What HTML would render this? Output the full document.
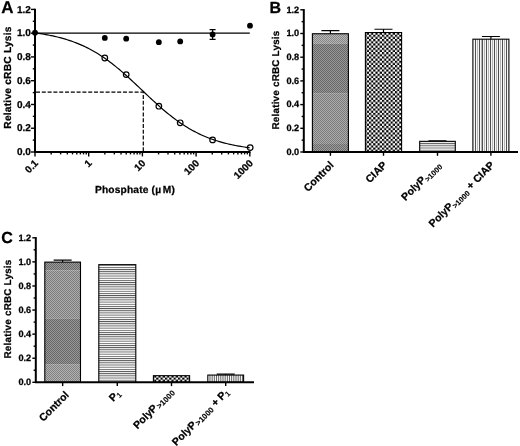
<!DOCTYPE html>
<html><head><meta charset="utf-8"><title>Figure</title>
<style>
html,body{margin:0;padding:0;background:#fff;}
svg{display:block;will-change:transform;}
text{text-rendering:geometricPrecision;font-family:"Liberation Sans",Arial,sans-serif;font-weight:bold;fill:#000;stroke:#000;stroke-width:0.25px;}
.ax{stroke:#000;stroke-width:2;fill:none;}
.tk{stroke:#000;stroke-width:1.4;fill:none;}
.ln{stroke:#000;stroke-width:1.2;fill:none;}
</style></head><body>
<svg width="520" height="446" viewBox="0 0 520 446">
<defs>
<pattern id="chk" width="4.34" height="4.34" patternUnits="userSpaceOnUse"><rect width="4.34" height="4.34" fill="#fff"/><rect x="0" y="0" width="2.17" height="2.17" fill="#000"/><rect x="2.17" y="2.17" width="2.17" height="2.17" fill="#000"/></pattern>
<pattern id="hs" width="2.17" height="2.17" patternUnits="userSpaceOnUse"><rect width="2.17" height="2.17" fill="#fff"/><rect x="0" y="0" width="2.17" height="0.9" fill="#555"/></pattern>
<pattern id="vs" x="1.49" width="3.91" height="4" patternUnits="userSpaceOnUse"><rect width="4" height="4" fill="#f4f4f4"/><rect x="0" y="0" width="1" height="4" fill="#505050"/><rect x="1.95" y="0" width="1" height="4" fill="#b4b4b4"/></pattern>
<pattern id="tex" width="2" height="2" patternUnits="userSpaceOnUse"><rect x="0" y="0" width="1" height="1" fill="#000" fill-opacity="0.2"/><rect x="1" y="1" width="1" height="1" fill="#000" fill-opacity="0.2"/><rect x="1" y="0" width="1" height="1" fill="#fff" fill-opacity="0.2"/><rect x="0" y="1" width="1" height="1" fill="#fff" fill-opacity="0.2"/></pattern>
</defs>
<rect width="520" height="446" fill="#fff"/>

<path class="ax" d="M35 8.700000000000001V152"/>
<path class="tk" d="M30.9 152.00H35"/>
<path class="tk" d="M32.8 140.12H35"/>
<text font-size="10" x="30.9" y="155.18" text-anchor="end">0.0</text>
<path class="tk" d="M30.9 128.23H35"/>
<path class="tk" d="M32.8 116.35H35"/>
<text font-size="10" x="30.9" y="131.41" text-anchor="end">0.2</text>
<path class="tk" d="M30.9 104.47H35"/>
<path class="tk" d="M32.8 92.58H35"/>
<text font-size="10" x="30.9" y="107.65" text-anchor="end">0.4</text>
<path class="tk" d="M30.9 80.70H35"/>
<path class="tk" d="M32.8 68.82H35"/>
<text font-size="10" x="30.9" y="83.88" text-anchor="end">0.6</text>
<path class="tk" d="M30.9 56.93H35"/>
<path class="tk" d="M32.8 45.05H35"/>
<text font-size="10" x="30.9" y="60.11" text-anchor="end">0.8</text>
<path class="tk" d="M30.9 33.17H35"/>
<path class="tk" d="M32.8 21.28H35"/>
<text font-size="10" x="30.9" y="36.35" text-anchor="end">1.0</text>
<path class="tk" d="M30.9 9.40H35"/>
<text font-size="10" x="30.9" y="12.58" text-anchor="end">1.2</text>
<text font-size="10.2" transform="translate(10.6 77.5) rotate(-90)" text-anchor="middle" letter-spacing="0.224">Relative cRBC Lysis</text>
<text font-size="17" x="1.3" y="13.3">A</text>
<path class="ax" d="M34.1 152H250.50"/>
<path class="tk" d="M35.00 152V156.4"/>
<path class="tk" d="M51.17 152V154.4"/>
<path class="tk" d="M60.62 152V154.4"/>
<path class="tk" d="M67.33 152V154.4"/>
<path class="tk" d="M72.53 152V154.4"/>
<path class="tk" d="M76.79 152V154.4"/>
<path class="tk" d="M80.38 152V154.4"/>
<path class="tk" d="M83.50 152V154.4"/>
<path class="tk" d="M86.24 152V154.4"/>
<text font-size="10" transform="translate(38.80 163.8) rotate(-45)" text-anchor="end">0.1</text>
<path class="tk" d="M88.70 152V156.4"/>
<path class="tk" d="M104.87 152V154.4"/>
<path class="tk" d="M114.32 152V154.4"/>
<path class="tk" d="M121.03 152V154.4"/>
<path class="tk" d="M126.23 152V154.4"/>
<path class="tk" d="M130.49 152V154.4"/>
<path class="tk" d="M134.08 152V154.4"/>
<path class="tk" d="M137.20 152V154.4"/>
<path class="tk" d="M139.94 152V154.4"/>
<text font-size="10" transform="translate(92.50 163.8) rotate(-45)" text-anchor="end">1</text>
<path class="tk" d="M142.40 152V156.4"/>
<path class="tk" d="M158.57 152V154.4"/>
<path class="tk" d="M168.02 152V154.4"/>
<path class="tk" d="M174.73 152V154.4"/>
<path class="tk" d="M179.93 152V154.4"/>
<path class="tk" d="M184.19 152V154.4"/>
<path class="tk" d="M187.78 152V154.4"/>
<path class="tk" d="M190.90 152V154.4"/>
<path class="tk" d="M193.64 152V154.4"/>
<text font-size="10" transform="translate(146.20 163.8) rotate(-45)" text-anchor="end">10</text>
<path class="tk" d="M196.10 152V156.4"/>
<path class="tk" d="M212.27 152V154.4"/>
<path class="tk" d="M221.72 152V154.4"/>
<path class="tk" d="M228.43 152V154.4"/>
<path class="tk" d="M233.63 152V154.4"/>
<path class="tk" d="M237.89 152V154.4"/>
<path class="tk" d="M241.48 152V154.4"/>
<path class="tk" d="M244.60 152V154.4"/>
<path class="tk" d="M247.34 152V154.4"/>
<text font-size="10" transform="translate(199.90 163.8) rotate(-45)" text-anchor="end">100</text>
<path class="tk" d="M249.80 152V156.4"/>
<text font-size="10" transform="translate(253.60 163.8) rotate(-45)" text-anchor="end">1000</text>
<text font-size="10.2" x="95" y="192.8" letter-spacing="0.16">Phosphate (<tspan dx="0.3">µ</tspan><tspan dx="1.4">M)</tspan></text>
<path class="ln" stroke-width="1.4" d="M35 33.07H249.80"/>
<path class="ln" stroke-dasharray="4 1.8" stroke-width="1.5" d="M36 92.1H143.3V152"/>
<path class="ln" stroke-width="1.3" d="M35.00 32.91 L36.79 33.15 L38.58 33.40 L40.37 33.67 L42.16 33.95 L43.95 34.25 L45.74 34.56 L47.53 34.88 L49.32 35.23 L51.11 35.59 L52.90 35.96 L54.69 36.36 L56.48 36.78 L58.27 37.21 L60.06 37.67 L61.85 38.15 L63.64 38.65 L65.43 39.18 L67.22 39.73 L69.01 40.31 L70.80 40.91 L72.59 41.54 L74.38 42.19 L76.17 42.88 L77.96 43.59 L79.75 44.34 L81.54 45.11 L83.33 45.92 L85.12 46.76 L86.91 47.64 L88.70 48.54 L90.49 49.49 L92.28 50.46 L94.07 51.47 L95.86 52.52 L97.65 53.60 L99.44 54.72 L101.23 55.88 L103.02 57.07 L104.81 58.30 L106.60 59.56 L108.39 60.85 L110.18 62.18 L111.97 63.55 L113.76 64.95 L115.55 66.38 L117.34 67.84 L119.13 69.33 L120.92 70.84 L122.71 72.39 L124.50 73.96 L126.29 75.55 L128.08 77.16 L129.87 78.79 L131.66 80.44 L133.45 82.10 L135.24 83.78 L137.03 85.46 L138.82 87.16 L140.61 88.85 L142.40 90.55 L144.19 92.25 L145.98 93.95 L147.77 95.64 L149.56 97.32 L151.35 98.99 L153.14 100.65 L154.93 102.29 L156.72 103.92 L158.51 105.53 L160.30 107.11 L162.09 108.68 L163.88 110.21 L165.67 111.72 L167.46 113.20 L169.25 114.65 L171.04 116.07 L172.83 117.46 L174.62 118.82 L176.41 120.14 L178.20 121.43 L179.99 122.68 L181.78 123.89 L183.57 125.07 L185.36 126.22 L187.15 127.33 L188.94 128.40 L190.73 129.44 L192.52 130.44 L194.31 131.40 L196.10 132.34 L197.89 133.23 L199.68 134.10 L201.47 134.93 L203.26 135.73 L205.05 136.49 L206.84 137.23 L208.63 137.94 L210.42 138.61 L212.21 139.26 L214.00 139.88 L215.79 140.48 L217.58 141.05 L219.37 141.59 L221.16 142.11 L222.95 142.60 L224.74 143.08 L226.53 143.53 L228.32 143.96 L230.11 144.37 L231.90 144.76 L233.69 145.13 L235.48 145.49 L237.27 145.83 L239.06 146.15 L240.85 146.46 L242.64 146.75 L244.43 147.02 L246.22 147.29 L248.01 147.54 L249.80 147.78"/>
<circle cx="104.8" cy="58" r="2.8" fill="none" stroke="#000" stroke-width="1.2"/>
<circle cx="126.2" cy="74.6" r="2.8" fill="none" stroke="#000" stroke-width="1.2"/>
<circle cx="158.85" cy="106.2" r="2.8" fill="none" stroke="#000" stroke-width="1.2"/>
<circle cx="180.2" cy="122.8" r="2.8" fill="none" stroke="#000" stroke-width="1.2"/>
<circle cx="212.6" cy="139.9" r="2.8" fill="none" stroke="#000" stroke-width="1.2"/>
<circle cx="250.2" cy="147.6" r="2.8" fill="none" stroke="#000" stroke-width="1.2"/>
<path class="ln" d="M212.6 29.6V39.3M209.6 29.6H215.6M209.6 39.3H215.6"/>
<circle cx="35" cy="32.7" r="2.9" fill="#000"/>
<circle cx="104.8" cy="37.9" r="2.9" fill="#000"/>
<circle cx="126.2" cy="38.7" r="2.9" fill="#000"/>
<circle cx="158.85" cy="42.2" r="2.9" fill="#000"/>
<circle cx="180.2" cy="41.4" r="2.9" fill="#000"/>
<circle cx="212.6" cy="34.4" r="2.9" fill="#000"/>
<circle cx="250" cy="25.7" r="2.9" fill="#000"/>
<path class="ax" d="M303.8 9.100000000000001V152"/>
<path class="tk" d="M300.3 152.00H303.8"/>
<path class="tk" d="M301.6 140.15H303.8"/>
<text font-size="9.2" x="299.2" y="154.89" text-anchor="end">0.0</text>
<path class="tk" d="M300.3 128.30H303.8"/>
<path class="tk" d="M301.6 116.45H303.8"/>
<text font-size="9.2" x="299.2" y="131.19" text-anchor="end">0.2</text>
<path class="tk" d="M300.3 104.60H303.8"/>
<path class="tk" d="M301.6 92.75H303.8"/>
<text font-size="9.2" x="299.2" y="107.49" text-anchor="end">0.4</text>
<path class="tk" d="M300.3 80.90H303.8"/>
<path class="tk" d="M301.6 69.05H303.8"/>
<text font-size="9.2" x="299.2" y="83.79" text-anchor="end">0.6</text>
<path class="tk" d="M300.3 57.20H303.8"/>
<path class="tk" d="M301.6 45.35H303.8"/>
<text font-size="9.2" x="299.2" y="60.09" text-anchor="end">0.8</text>
<path class="tk" d="M300.3 33.50H303.8"/>
<path class="tk" d="M301.6 21.65H303.8"/>
<text font-size="9.2" x="299.2" y="36.39" text-anchor="end">1.0</text>
<path class="tk" d="M300.3 9.80H303.8"/>
<text font-size="9.2" x="299.2" y="12.69" text-anchor="end">1.2</text>
<text font-size="9.85" transform="translate(279.1 80) rotate(-90)" text-anchor="middle" letter-spacing="0.217">Relative cRBC Lysis</text>
<text font-size="16" x="269.6" y="12.5">B</text>
<path class="ln" d="M330.40 33.74V30.54M321.40 30.54H339.40"/>
<rect x="312.4" y="33.74" width="36.0" height="10.06" fill="#a6a6a6"/>
<rect x="312.4" y="43.80" width="36.0" height="49.40" fill="#808080"/>
<rect x="312.4" y="93.20" width="36.0" height="50.80" fill="#989898"/>
<rect x="312.4" y="144.00" width="36.0" height="8.00" fill="#848484"/>
<rect x="312.4" y="33.74" width="36.0" height="118.26" fill="url(#tex)" stroke="#000" stroke-width="1.1"/>
<path class="tk" d="M330.40 152V155.8"/>
<path class="ln" d="M383.50 32.55V29.25M374.50 29.25H392.50"/>
<rect x="365.4" y="32.55" width="36.200000000000045" height="119.45" fill="url(#chk)" stroke="#000" stroke-width="1.1"/>
<path class="tk" d="M383.50 152V155.8"/>
<path class="ln" d="M437.50 141.34V140.74M428.50 140.74H446.50"/>
<rect x="419.7" y="141.34" width="35.60000000000002" height="10.66" fill="url(#hs)" stroke="#000" stroke-width="1.1"/>
<path class="tk" d="M437.50 152V155.8"/>
<path class="ln" d="M490.90 39.19V36.49M481.90 36.49H499.90"/>
<rect x="472.9" y="39.19" width="36.0" height="112.81" fill="#f6f6f6"/>
<rect x="475" y="39.19" width="1" height="112.81" fill="#505050"/>
<rect x="477" y="39.19" width="1" height="112.81" fill="#b4b4b4"/>
<rect x="479" y="39.19" width="1" height="112.81" fill="#505050"/>
<rect x="481" y="39.19" width="1" height="112.81" fill="#b4b4b4"/>
<rect x="482" y="39.19" width="1" height="112.81" fill="#505050"/>
<rect x="484" y="39.19" width="1" height="112.81" fill="#b4b4b4"/>
<rect x="486" y="39.19" width="1" height="112.81" fill="#505050"/>
<rect x="488" y="39.19" width="1" height="112.81" fill="#b4b4b4"/>
<rect x="490" y="39.19" width="1" height="112.81" fill="#505050"/>
<rect x="492" y="39.19" width="1" height="112.81" fill="#b4b4b4"/>
<rect x="494" y="39.19" width="1" height="112.81" fill="#505050"/>
<rect x="496" y="39.19" width="1" height="112.81" fill="#b4b4b4"/>
<rect x="498" y="39.19" width="1" height="112.81" fill="#505050"/>
<rect x="500" y="39.19" width="1" height="112.81" fill="#b4b4b4"/>
<rect x="502" y="39.19" width="1" height="112.81" fill="#505050"/>
<rect x="504" y="39.19" width="1" height="112.81" fill="#b4b4b4"/>
<rect x="506" y="39.19" width="1" height="112.81" fill="#505050"/>
<rect x="472.9" y="39.19" width="36.0" height="112.81" fill="none" stroke="#000" stroke-width="1.1"/>
<path class="tk" d="M490.90 152V155.8"/>
<path class="ax" d="M302.90000000000003 152H518"/>
<text font-size="10.5" transform="translate(334.40 165.80) rotate(-45)" text-anchor="end">Control</text>
<text font-size="10.5" transform="translate(387.50 165.80) rotate(-45)" text-anchor="end">CIAP</text>
<text font-size="10.5" transform="translate(441.20 165.50) rotate(-45)" text-anchor="end">PolyP<tspan font-size="7.6" dy="2.5" stroke-width="0.1">&gt;1000</tspan></text>
<text font-size="10.5" transform="translate(494.90 165.80) rotate(-45)" text-anchor="end">PolyP<tspan font-size="7.6" dy="2.5" stroke-width="0.1">&gt;1000</tspan><tspan font-size="10.5" dy="-2.5"> + CIAP</tspan></text>
<path class="ax" d="M35.8 237.10000000000002V382.3"/>
<path class="tk" d="M32.3 382.30H35.8"/>
<path class="tk" d="M33.599999999999994 370.26H35.8"/>
<text font-size="9.2" x="31.199999999999996" y="385.19" text-anchor="end">0.0</text>
<path class="tk" d="M32.3 358.22H35.8"/>
<path class="tk" d="M33.599999999999994 346.18H35.8"/>
<text font-size="9.2" x="31.199999999999996" y="361.11" text-anchor="end">0.2</text>
<path class="tk" d="M32.3 334.13H35.8"/>
<path class="tk" d="M33.599999999999994 322.09H35.8"/>
<text font-size="9.2" x="31.199999999999996" y="337.03" text-anchor="end">0.4</text>
<path class="tk" d="M32.3 310.05H35.8"/>
<path class="tk" d="M33.599999999999994 298.01H35.8"/>
<text font-size="9.2" x="31.199999999999996" y="312.94" text-anchor="end">0.6</text>
<path class="tk" d="M32.3 285.97H35.8"/>
<path class="tk" d="M33.599999999999994 273.93H35.8"/>
<text font-size="9.2" x="31.199999999999996" y="288.86" text-anchor="end">0.8</text>
<path class="tk" d="M32.3 261.88H35.8"/>
<path class="tk" d="M33.599999999999994 249.84H35.8"/>
<text font-size="9.2" x="31.199999999999996" y="264.78" text-anchor="end">1.0</text>
<path class="tk" d="M32.3 237.80H35.8"/>
<text font-size="9.2" x="31.199999999999996" y="240.69" text-anchor="end">1.2</text>
<text font-size="9.85" transform="translate(11 309) rotate(-90)" text-anchor="middle" letter-spacing="0.217">Relative cRBC Lysis</text>
<text font-size="16" x="1.3" y="242.6">C</text>
<path class="ln" d="M62.65 262.12V260.22M53.65 260.22H71.65"/>
<rect x="44.8" y="262.12" width="35.7" height="8.28" fill="#828282"/>
<rect x="44.8" y="270.40" width="35.7" height="48.00" fill="#9a9a9a"/>
<rect x="44.8" y="318.40" width="35.7" height="46.20" fill="#808080"/>
<rect x="44.8" y="364.60" width="35.7" height="17.70" fill="#a0a0a0"/>
<rect x="44.8" y="262.12" width="35.7" height="120.18" fill="url(#tex)" stroke="#000" stroke-width="1.1"/>
<path class="tk" d="M62.65 382.3V386.1"/>
<rect x="98.8" y="264.65" width="37.000000000000014" height="117.65" fill="url(#hs)" stroke="#000" stroke-width="1.1"/>
<path class="tk" d="M117.30 382.3V386.1"/>
<rect x="153.4" y="375.68" width="36.19999999999999" height="6.62" fill="url(#chk)" stroke="#000" stroke-width="1.1"/>
<path class="tk" d="M171.50 382.3V386.1"/>
<path class="ln" d="M225.70 375.07V374.07M216.70 374.07H234.70"/>
<rect x="207.8" y="375.07" width="35.79999999999998" height="7.23" fill="#f6f6f6"/>
<rect x="209.52" y="375.07" width="0.9" height="7.23" fill="#555"/>
<rect x="211.69" y="375.07" width="0.9" height="7.23" fill="#555"/>
<rect x="213.86" y="375.07" width="0.9" height="7.23" fill="#555"/>
<rect x="216.03" y="375.07" width="0.9" height="7.23" fill="#555"/>
<rect x="218.20" y="375.07" width="0.9" height="7.23" fill="#555"/>
<rect x="220.37" y="375.07" width="0.9" height="7.23" fill="#555"/>
<rect x="222.54" y="375.07" width="0.9" height="7.23" fill="#555"/>
<rect x="224.71" y="375.07" width="0.9" height="7.23" fill="#555"/>
<rect x="226.88" y="375.07" width="0.9" height="7.23" fill="#555"/>
<rect x="229.05" y="375.07" width="0.9" height="7.23" fill="#555"/>
<rect x="231.22" y="375.07" width="0.9" height="7.23" fill="#555"/>
<rect x="233.39" y="375.07" width="0.9" height="7.23" fill="#555"/>
<rect x="235.56" y="375.07" width="0.9" height="7.23" fill="#555"/>
<rect x="237.73" y="375.07" width="0.9" height="7.23" fill="#555"/>
<rect x="239.90" y="375.07" width="0.9" height="7.23" fill="#555"/>
<rect x="242.07" y="375.07" width="0.9" height="7.23" fill="#555"/>
<rect x="207.8" y="375.07" width="35.79999999999998" height="7.23" fill="none" stroke="#000" stroke-width="1.1"/>
<path class="tk" d="M225.70 382.3V386.1"/>
<path class="ax" d="M34.9 382.3H254"/>
<text font-size="10.5" transform="translate(69.65 395.60) rotate(-45)" text-anchor="end">Control</text>
<text font-size="10.5" transform="translate(121.10 394.10) rotate(-45)" text-anchor="end">P<tspan font-size="7.4" dy="1.8" stroke-width="0.1">1</tspan></text>
<text font-size="10.5" transform="translate(174.50 392.30) rotate(-45)" text-anchor="end">PolyP<tspan font-size="8" dy="1.6" dx="0.8" stroke-width="0.1">&gt;1000</tspan></text>
<text font-size="10.5" transform="translate(229.70 392.80) rotate(-45)" text-anchor="end">PolyP<tspan font-size="8" dy="1.6" dx="0.8" stroke-width="0.1">&gt;1000</tspan><tspan font-size="10.5" dy="-1.6"> + </tspan>P<tspan font-size="7.4" dy="1.8" stroke-width="0.1">1</tspan></text>
</svg></body></html>
